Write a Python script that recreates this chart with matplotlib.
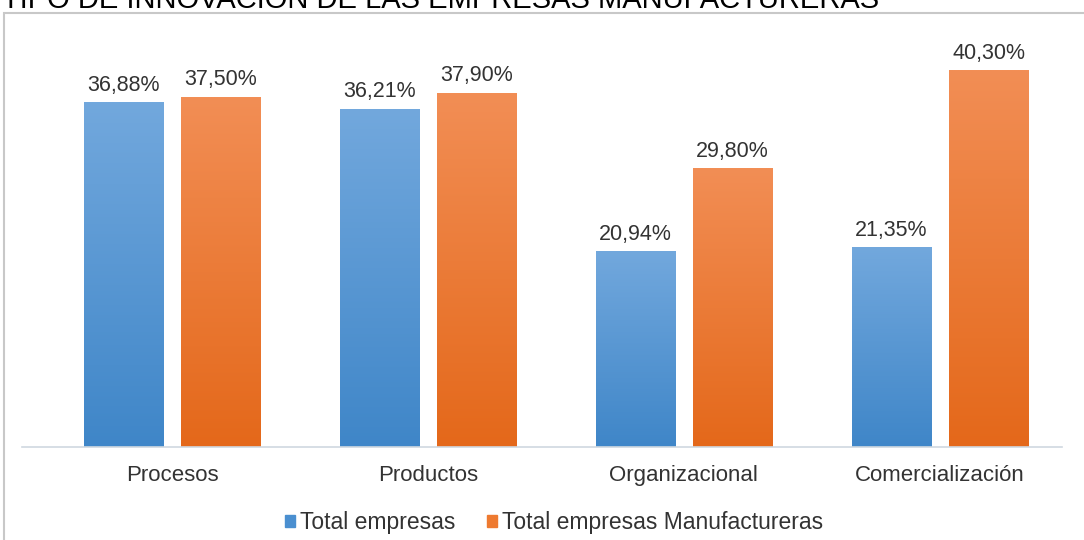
import numpy as np
import matplotlib.pyplot as plt
from matplotlib.colors import LinearSegmentedColormap
from matplotlib.patches import Rectangle

plt.rcParams['font.family'] = ['Liberation Sans', 'DejaVu Sans']

categorias = ['Procesos', 'Productos', 'Organizacional', 'Comercialización']
total_empresas = [36.88, 36.21, 20.94, 21.35]
total_manufactureras = [37.50, 37.90, 29.80, 40.30]
series = ['Total empresas', 'Total empresas Manufactureras']

blue_cm = LinearSegmentedColormap.from_list('b', ['#3f86c8', '#72a8dd'])
orange_cm = LinearSegmentedColormap.from_list('o', ['#e4681a', '#f28e55'])

fig = plt.figure(figsize=(10.84, 5.4), dpi=100)
ax = fig.add_axes([22/1084, 93/540, 1040/1084, 420/540])

x = np.arange(len(categorias))
w = 0.31
off = 0.19
grad = np.linspace(0, 1, 256).reshape(-1, 1)

for vals, dx, cm, col in [(total_empresas, -off, blue_cm, '#4a8fd0'),
                          (total_manufactureras, off, orange_cm, '#ee7a30')]:
    bars = ax.bar(x + dx, vals, w, color='none', edgecolor='none')
    for b, v in zip(bars, vals):
        x0 = b.get_x()
        ax.imshow(grad, extent=[x0, x0 + w, 0, v], origin='lower',
                  aspect='auto', cmap=cm, zorder=2)
        ax.text(x0 + w / 2, v + 0.75, f'{v:.2f}%'.replace('.', ','),
                ha='center', va='bottom', fontsize=15.5, color='#333333')

ax.set_xlim(-0.586, 3.477)
ax.set_ylim(0, 45)
ax.set_xticks(x)
ax.set_xticklabels(categorias, fontsize=16, color='#333333')
ax.tick_params(axis='x', length=0, pad=13)
ax.set_yticks([])
for s in ['top', 'right', 'left']:
    ax.spines[s].set_visible(False)
ax.spines['bottom'].set_color('#d0d8e0')
ax.spines['bottom'].set_linewidth(1.2)

# legend
handles = [Rectangle((0, 0), 1, 1, color='#4a8fd0'),
           Rectangle((0, 0), 1, 1, color='#ee7a30')]
fig.legend(handles, series, loc='center', bbox_to_anchor=(554/1084, 1 - 523/540),
           ncol=2, frameon=False, fontsize=16.5, handlelength=0.45, handleheight=0.45,
           handletextpad=0.2, columnspacing=1.4, labelcolor='#333333')

# outer chart frame
fig.patches.append(Rectangle((4/1084, -0.05), 1.1, 1 - 13/540 + 0.05,
                             transform=fig.transFigure, fill=False,
                             edgecolor='#c8c8c8', linewidth=1.5))

fig.text(2/1084, 1 - 8/540, 'TIPO DE INNOVACIÓN DE LAS EMPRESAS MANUFACTURERAS',
         ha='left', va='baseline', fontsize=21, color='black')

fig.savefig('out.png', dpi=100)
